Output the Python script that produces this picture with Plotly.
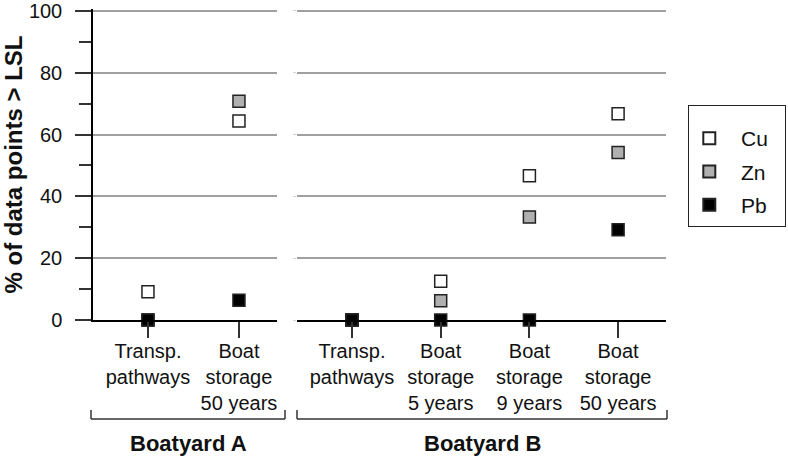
import plotly.graph_objects as go

# ---- data ----
cats_a = ["Transp.<br>pathways", "Boat<br>storage<br>50 years"]
cats_b = ["Transp.<br>pathways", "Boat<br>storage<br>5 years", "Boat<br>storage<br>9 years", "Boat<br>storage<br>50 years"]
group_labels = ["Boatyard A", "Boatyard B"]
series_names = ["Cu", "Zn", "Pb"]
cu_a = [9.1, 64.4]
zn_a = [0, 70.8]
pb_a = [0, 6.4]
cu_b = [0, 12.5, 46.7, 66.7]
zn_b = [0, 6.2, 33.3, 54.2]
pb_b = [0, 0, 0, 29.2]
y_ticks = [0, 20, 40, 60, 80, 100]

fills = {"Cu": "white", "Zn": "#b0b0b0", "Pb": "black"}
FONT = "Liberation Sans, Arial, sans-serif"
legend_names = {n: "\u00a0\u00a0" + n + "\u00a0\u00a0" for n in series_names}

fig = go.Figure()
vals_a = {"Cu": cu_a, "Zn": zn_a, "Pb": pb_a}
vals_b = {"Cu": cu_b, "Zn": zn_b, "Pb": pb_b}
for n in series_names:
    mk = dict(symbol="square", size=12, color=fills[n], line=dict(color="#222222", width=1.5))
    fig.add_trace(go.Scatter(x=cats_a, y=vals_a[n], mode="markers", marker=mk, name=legend_names[n],
                             legendgroup=n, showlegend=True, cliponaxis=False, xaxis="x", yaxis="y"))
    fig.add_trace(go.Scatter(x=cats_b, y=vals_b[n], mode="markers", marker=mk, name=legend_names[n],
                             legendgroup=n, showlegend=False, cliponaxis=False, xaxis="x2", yaxis="y2"))

W, H = 788, 457
L, R, T, B = 93, 122, 9, 137
pw = W - L - R
ph = H - T - B
YMAX = 100.6

def px_x(p):
    return (p - L) / pw

def px_y(p):
    return (H - B - p) / ph

xcommon = dict(type="category", showline=True, linecolor="black", linewidth=1.5,
               ticks="outside", ticklen=16, tickwidth=1.5, tickcolor="#333333",
               showgrid=False, zeroline=False, tickfont=dict(size=20, color="#111111"),
               ticklabelstandoff=-4)

fig.update_layout(
    width=W, height=H,
    margin=dict(l=L, r=R, t=T, b=B, autoexpand=False),
    paper_bgcolor="white", plot_bgcolor="white",
    font=dict(family=FONT, color="#111111"),
    xaxis=dict(domain=[0, px_x(277)], range=[-0.604, 1.418], **xcommon),
    xaxis2=dict(domain=[px_x(297), 1], range=[-0.62, 3.54], anchor="y2", **xcommon),
    yaxis=dict(range=[0, YMAX], tickvals=y_ticks, showline=True, linecolor="black", linewidth=1.5,
               ticks="outside", ticklen=16, tickwidth=1.5, tickcolor="#333333",
               minor=dict(ticks="outside", ticklen=12, dtick=10, tickwidth=1.5, tickcolor="#333333"),
               showgrid=True, gridcolor="#a0a0a0", gridwidth=1.5, zeroline=False,
               tickfont=dict(size=20, color="#111111"), ticklabelstandoff=9,
               ticklabeloverflow="allow",
               title=dict(text="<b>% of data points > LSL</b>", font=dict(size=24), standoff=8)),
    yaxis2=dict(range=[0, YMAX], tickvals=y_ticks, anchor="x2", showline=False,
                ticks="outside", ticklen=3, tickcolor="#d0d0d0", showticklabels=False,
                showgrid=True, gridcolor="#a0a0a0", gridwidth=1.5, zeroline=False),
    legend=dict(x=px_x(688), y=px_y(105), xanchor="left", yanchor="top",
                bordercolor="#222222", borderwidth=1.3, bgcolor="white",
                font=dict(size=21, color="#111111"), traceorder="grouped", tracegroupgap=3,
                itemsizing="constant",
                title=dict(text="\u00a0", font=dict(size=9))),
    showlegend=True,
)

# brackets and group labels
bracket_spans = [(91, 285), (297, 667)]
yb = px_y(419)
ye = px_y(410)
for (a, b), lab in zip(bracket_spans, group_labels):
    xa, xb = px_x(a), px_x(b)
    for x0, y0, x1, y1 in [(xa, yb, xb, yb), (xa, yb, xa, ye), (xb, yb, xb, ye)]:
        fig.add_shape(type="line", xref="paper", yref="paper", x0=x0, y0=y0, x1=x1, y1=y1,
                      line=dict(color="#333333", width=1.5))
    fig.add_annotation(x=(xa + xb) / 2, y=px_y(443), xref="paper", yref="paper",
                       text="<b>" + lab + "</b>", showarrow=False,
                       font=dict(size=22, color="#111111"), xanchor="center", yanchor="middle")

fig.write_html("out.html", config={"displayModeBar": False},
               post_script="document.body.style.margin='0';document.body.style.padding='0';")
